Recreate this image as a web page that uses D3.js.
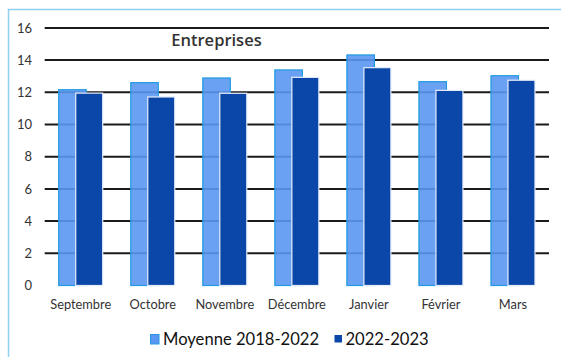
<!DOCTYPE html>
<html><head><meta charset="utf-8">
<script src="https://cdn.jsdelivr.net/npm/d3@7"></script>
<style>body{margin:0;background:#fff}svg{display:block}</style>
</head><body><svg id="c" width="561" height="357"></svg>
<script>
const categories = ["Septembre","Octobre","Novembre","Décembre","Janvier","Février","Mars"];
const seriesNames = ["Moyenne 2018-2022","2022-2023"];
const moyenne = [12.16,12.6,12.89,13.39,14.32,12.66,13.03];
const current = [11.95,11.71,11.94,12.93,13.53,12.12,12.75];
const yTicks = [0,2,4,6,8,10,12,14,16];
const title = "Entreprises";

const svg = d3.select("#c");
const colLight = "#5b97f2", strokeLight = "#1e9be0";
const colDark = "#0a47a8";

// frame
svg.append("rect").attr("x",8.5).attr("y",9.5).attr("width",560).attr("height",360)
  .attr("fill","none").attr("stroke","#8fd0f2").attr("stroke-width",1.5);

const x = d3.scaleBand().domain(categories).range([44.7,549]);
const y = d3.scaleLinear().domain([0,16]).range([285.5,27.9]);

// gridlines
svg.append("g").selectAll("line").data(yTicks.filter(d=>d>0)).join("line")
  .attr("x1",44.7).attr("x2",549).attr("y1",d=>y(d)).attr("y2",d=>y(d))
  .attr("stroke","#1a1a1a").attr("stroke-width",2);

// y axis labels
const yAxis = d3.axisLeft(y).tickValues(yTicks).tickSize(0).tickPadding(0);
const ga = svg.append("g").attr("transform","translate(32,0)").call(yAxis);
ga.select(".domain").remove();
ga.selectAll("text").attr("font-family","Lato, sans-serif").attr("font-size",13).attr("fill","#333");

const c = d => x(d) + x.bandwidth()/2;
const bw = 27.5;
// light bars
svg.append("g").selectAll("rect").data(categories).join("rect")
  .attr("x",(d)=>c(d)-22)
  .attr("y",(d,i)=>y(moyenne[i])).attr("width",bw)
  .attr("height",(d,i)=>y(0)-y(moyenne[i]))
  .attr("fill",colLight).attr("fill-opacity",0.9).attr("stroke",strokeLight).attr("stroke-width",1.2);
// dark bars
svg.append("g").selectAll("rect").data(categories).join("rect")
  .attr("x",(d)=>c(d)-5)
  .attr("y",(d,i)=>y(current[i])).attr("width",bw-0.5)
  .attr("height",(d,i)=>y(0)-y(current[i]))
  .attr("fill",colDark).attr("stroke","#e8eefa").attr("stroke-width",1.2);

// x labels
const xAxis = d3.axisBottom(x).tickSize(0).tickPadding(0);
const gx = svg.append("g").attr("transform","translate(0,309)").call(xAxis);
gx.select(".domain").remove();
gx.selectAll("text").attr("dy",0).attr("font-family","Lato, sans-serif").attr("font-size",12.8).attr("fill","#333");

// title
svg.append("text").attr("x",216.5).attr("y",46).attr("text-anchor","middle")
  .attr("font-family","'Open Sans', sans-serif").attr("font-weight",600).attr("font-size",16.5).attr("fill","#333").text(title);

// legend
const lg = svg.append("g");
lg.append("rect").attr("x",150.5).attr("y",334.5).attr("width",8.5).attr("height",9.5)
  .attr("fill",colLight).attr("stroke",strokeLight).attr("stroke-width",1);
lg.append("text").attr("x",163).attr("y",344.5).attr("font-family","Lato, sans-serif").attr("font-size",16.6).attr("fill","#111").text(seriesNames[0]);
lg.append("rect").attr("x",334.5).attr("y",335).attr("width",7.5).attr("height",7.5).attr("fill",colDark);
lg.append("text").attr("x",345.5).attr("y",344.5).attr("font-family","Lato, sans-serif").attr("font-size",16.6).attr("fill","#111").text(seriesNames[1]);
</script></body></html>
